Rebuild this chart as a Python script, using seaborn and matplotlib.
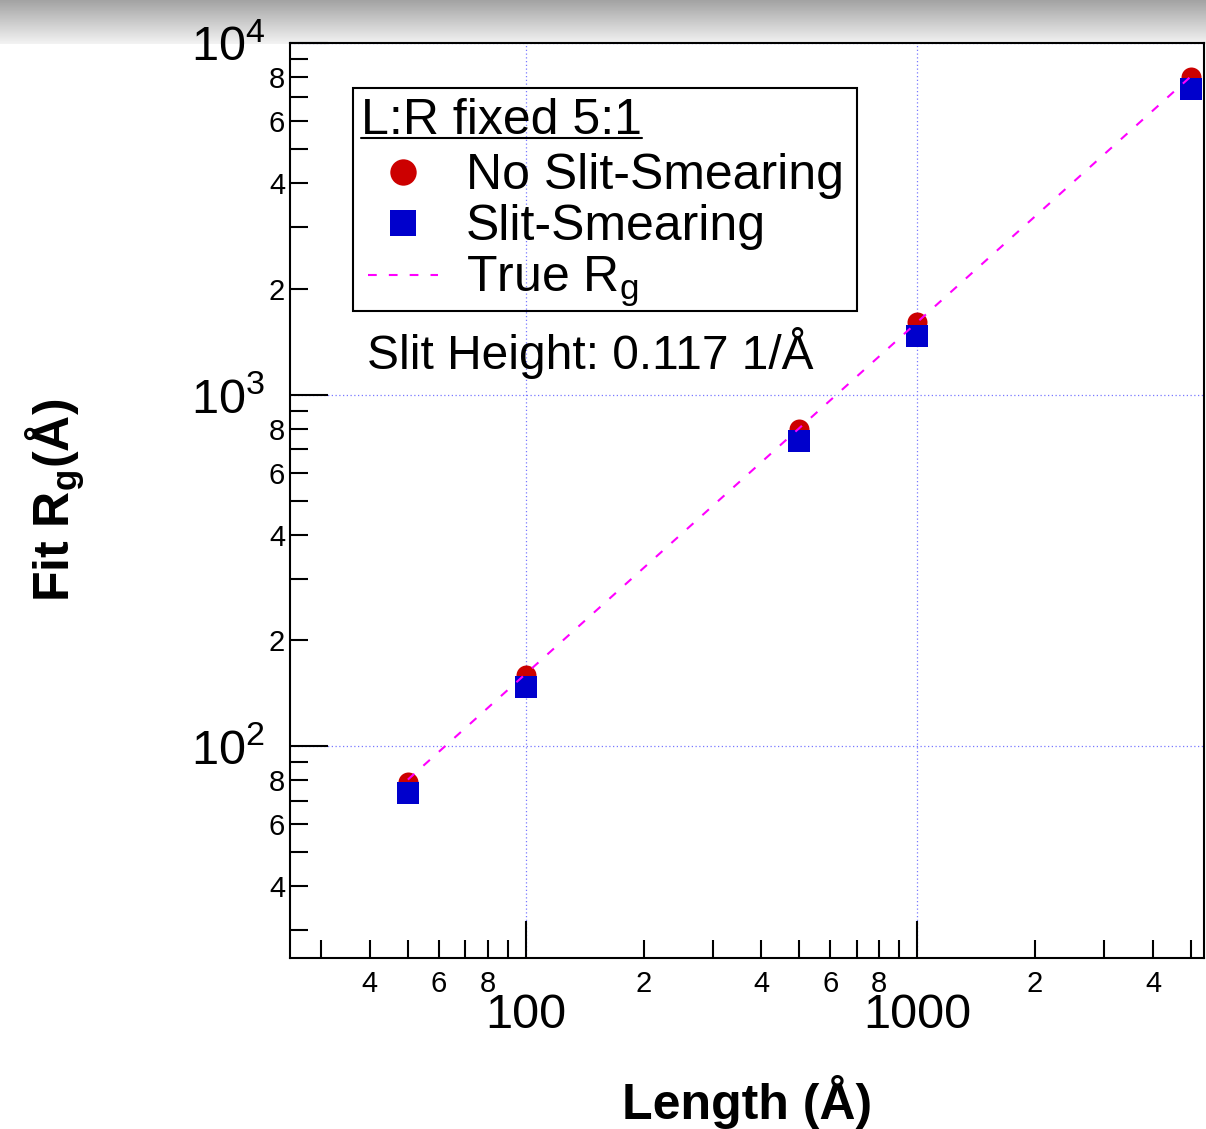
import numpy as np
import pandas as pd
import matplotlib
matplotlib.use("Agg")
import matplotlib.pyplot as plt
import seaborn as sns
from matplotlib.ticker import FixedLocator, FuncFormatter
from matplotlib.lines import Line2D
from matplotlib.patches import Rectangle

# Cylinder length (Å) and fitted radius of gyration (Å)
length = [50, 100, 500, 1000, 5000]
rg_no_smear = [79, 159, 800, 1604, 8005]
rg_smear = [73.5, 147, 740, 1472, 7397]
rg_true = [80.4, 160.7, 803.6, 1607.3, 8036.5]

series_labels = ["No Slit-Smearing", "Slit-Smearing", "True R$_{\\mathregular{g}}$"]
legend_title = "L:R fixed 5:1"
note_text = "Slit Height: 0.117 1/Å"

x_major = [100, 1000]
x_minor = [30, 40, 50, 60, 70, 80, 90, 200, 300, 400, 500, 600, 700, 800, 900,
           2000, 3000, 4000, 5000]
y_major = [100, 1000, 10000]
y_minor = [30, 40, 50, 60, 70, 80, 90, 200, 300, 400, 500, 600, 700, 800, 900,
           2000, 3000, 4000, 5000, 6000, 7000, 8000, 9000]

sns.set_theme(style="white")
plt.rcParams["font.family"] = ["Liberation Sans", "DejaVu Sans"]
plt.rcParams["mathtext.fontset"] = "custom"
plt.rcParams["mathtext.rm"] = "Liberation Sans"
plt.rcParams["mathtext.it"] = "Liberation Sans:italic"
plt.rcParams["mathtext.bf"] = "Liberation Sans:bold"
for key in ("text.color", "axes.labelcolor", "xtick.color", "ytick.color",
            "axes.edgecolor"):
    plt.rcParams[key] = "black"

W, H = 1206, 1129
fig = plt.figure(figsize=(W / 100, H / 100), dpi=100)
fig.patch.set_facecolor("white")

# grey shaded header strip
band = fig.add_axes([0, 1 - 44 / H, 1, 44 / H], zorder=-5)
shade = np.linspace(0.64, 0.95, 60)[:, None]
band.imshow(shade, cmap="gray", vmin=0, vmax=1, aspect="auto")
band.axis("off")

ax = fig.add_axes([290 / W, 1 - 958 / H, (1204 - 290) / W, (958 - 43) / H])
ax.set_facecolor("white")

red = "#cc0000"
blue = "#0000cc"
magenta = "#ff00ff"
dash = (0, (4.2, 5.8))

sns.scatterplot(x=length, y=rg_no_smear, ax=ax, marker="o", s=14.4 ** 2,
                color=red, linewidth=0, zorder=2)
sns.scatterplot(x=length, y=rg_smear, ax=ax, marker="s", s=15.2 ** 2,
                color=blue, linewidth=0, zorder=2.5)
sns.lineplot(x=length, y=rg_true, ax=ax, color=magenta, linestyle=dash,
             linewidth=1.5, zorder=3)

ax.set_xscale("log")
ax.set_yscale("log")
ax.set_xlim(25, 5400)
ax.set_ylim(25, 10000)

ax.xaxis.set_major_locator(FixedLocator(x_major))
ax.xaxis.set_minor_locator(FixedLocator(x_minor))
ax.yaxis.set_major_locator(FixedLocator(y_major))
ax.yaxis.set_minor_locator(FixedLocator(y_minor))


def minor_fmt(v, pos):
    lead = int(round(v / 10 ** np.floor(np.log10(v) + 1e-9)))
    return str(lead) if lead in (2, 4, 6, 8) else ""


ax.xaxis.set_major_formatter(FuncFormatter(lambda v, p: f"{int(v)}"))
ax.xaxis.set_minor_formatter(FuncFormatter(minor_fmt))
ax.yaxis.set_major_formatter(
    FuncFormatter(lambda v, p: "$\\mathregular{10^{%d}}$" % int(round(np.log10(v)))))
ax.yaxis.set_minor_formatter(FuncFormatter(minor_fmt))

ax.tick_params(which="both", direction="in", color="black", width=1.5,
               bottom=True, left=True, top=False, right=False, labelcolor="black")
ax.tick_params(axis="x", which="major", length=27, pad=25, labelsize=35)
ax.tick_params(axis="x", which="minor", length=13, pad=9, labelsize=21)
ax.tick_params(axis="y", which="major", length=27, pad=18, labelsize=35)
ax.tick_params(axis="y", which="minor", length=13, pad=3.5, labelsize=21)

ax.grid(which="major", color="#7878ff", linestyle=(0, (1, 2)), linewidth=0.9)
ax.grid(which="minor", visible=False)
for sp in ax.spines.values():
    sp.set_visible(True)
    sp.set_color("black")
    sp.set_linewidth(1.5)

ax.set_xlabel("Length (Å)", fontsize=36, fontweight="bold")
ax.xaxis.label.set_va("baseline")
ax.xaxis.set_label_coords(0.5, (958 - 1119) / (958 - 43))
ax.set_ylabel("Fit R$_{\\mathbf{g}}$(Å)", fontsize=36, fontweight="bold")
ax.yaxis.label.set_va("baseline")
ax.yaxis.set_label_coords((70 - 290) / (1204 - 290), 0.5)

handles = [
    Line2D([], [], marker="o", linestyle="none", color=red, markersize=19,
           markeredgewidth=0),
    Line2D([], [], marker="s", linestyle="none", color=blue, markersize=19,
           markeredgewidth=0),
    Line2D([], [], color=magenta, linestyle=dash, linewidth=1.5),
]
leg = ax.legend(handles, series_labels, loc="upper left",
                bbox_to_anchor=(358 / W, 1 - 143 / H), bbox_transform=fig.transFigure,
                borderaxespad=0, fontsize=36, frameon=False, handlelength=1.4,
                handletextpad=0.56, labelspacing=0.1, borderpad=0.2)

# legend box outline and header
fig.add_artist(Rectangle((353 / W, 1 - 311 / H), (857 - 353) / W, (311 - 88) / H,
                         transform=fig.transFigure, facecolor="none",
                         edgecolor="black", linewidth=1.5, zorder=6))
title = fig.text(361 / W, 1 - 134 / H, legend_title, fontsize=36,
                 ha="left", va="baseline")

fig.text(367 / W, 1 - 369 / H, note_text, fontsize=34.5, ha="left", va="baseline")

# underline the legend header
fig.canvas.draw()
tb = title.get_window_extent()
inv = fig.transFigure.inverted()
(x0, _), (x1, _) = inv.transform([[tb.x0, tb.y0], [tb.x1, tb.y1]])
y_line = 1 - 138 / H
fig.add_artist(Line2D([x0, x1], [y_line, y_line], color="black",
                      linewidth=1.5, transform=fig.transFigure))

fig.savefig("out.png", dpi=100)
